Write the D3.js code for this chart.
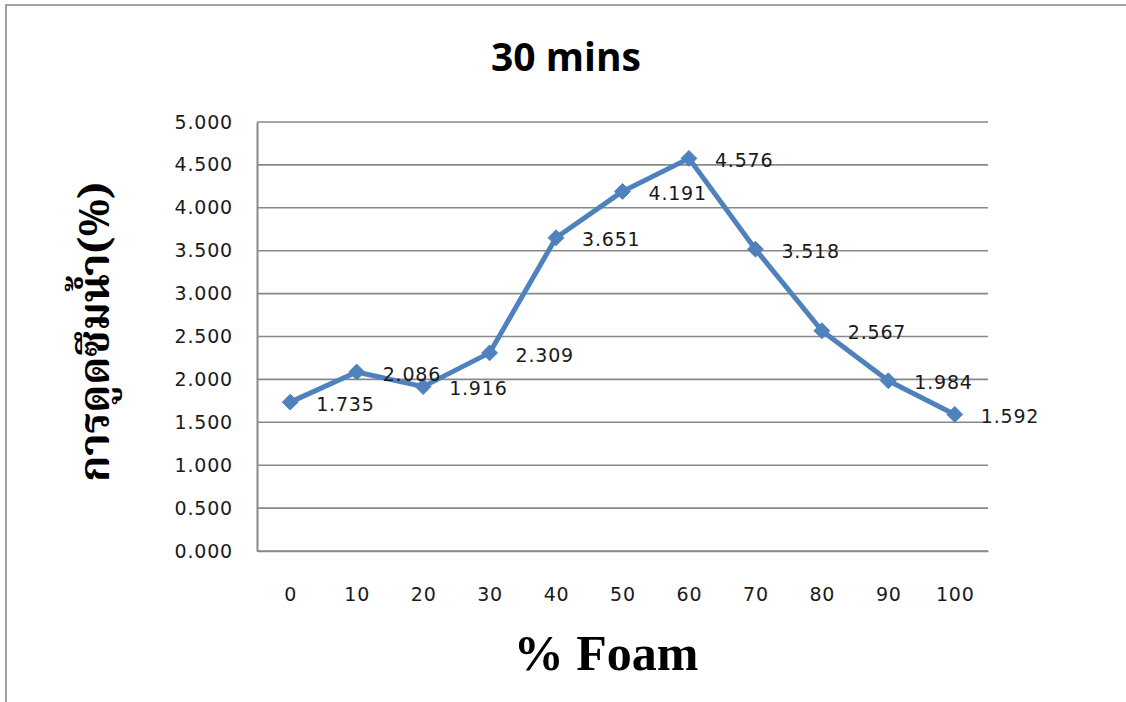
<!DOCTYPE html>
<html>
<head>
<meta charset="utf-8">
<script src="https://cdn.jsdelivr.net/npm/d3@7"></script>
<style>
  html, body { margin: 0; padding: 0; background: #fff; }
  svg { display: block; }
</style>
</head>
<body>
<svg id="chart" width="1126" height="702"></svg>
<script>
// Water absorption after 30 minutes for each foam percentage
const foamPercent = ["0", "10", "20", "30", "40", "50", "60", "70", "80", "90", "100"];
const absorption = [1.735, 2.086, 1.916, 2.309, 3.651, 4.191, 4.576, 3.518, 2.567, 1.984, 1.592];
const yTicks = [0, 0.5, 1, 1.5, 2, 2.5, 3, 3.5, 4, 4.5, 5];

const titleText = "30 mins";
const xTitleText = "% Foam";
const yTitleText = "การดูดซึมน้ำ(%)";

const svg = d3.select("#chart");
const W = 1126, H = 702;
const plot = { left: 257, top: 122, right: 988, bottom: 551 };
const numFont = "'DejaVu Sans', Verdana, sans-serif";
const lineColor = "#4F81BD";
const gridColor = "#888888";

// chart frame (runs off the right and bottom edges)
svg.append("path")
  .attr("d", `M6,${H + 5} V5 H${W + 5}`)
  .attr("fill", "none")
  .attr("stroke", "#a3a3a3")
  .attr("stroke-width", 2);

const x = d3.scalePoint()
  .domain(foamPercent)
  .range([plot.left, plot.right])
  .padding(0.5);

const y = d3.scaleLinear()
  .domain([0, 5])
  .range([plot.bottom, plot.top]);

// horizontal gridlines
svg.append("g")
  .selectAll("line")
  .data(yTicks)
  .join("line")
  .attr("x1", plot.left)
  .attr("x2", plot.right)
  .attr("y1", d => y(d))
  .attr("y2", d => y(d))
  .attr("stroke", gridColor)
  .attr("stroke-width", 1.6);

// y axis
const yAxis = svg.append("g")
  .attr("transform", `translate(${plot.left},0)`)
  .call(d3.axisLeft(y).tickValues(yTicks).tickFormat(d3.format(".3f")).tickSize(0).tickPadding(24));
yAxis.select(".domain").attr("stroke", gridColor).attr("stroke-width", 2);
yAxis.selectAll("text")
  .attr("font-family", numFont)
  .attr("font-size", 19)
  .attr("letter-spacing", 0.8)
  .attr("fill", "#1a1a1a");

// x axis
const xAxis = svg.append("g")
  .attr("transform", `translate(0,${plot.bottom})`)
  .call(d3.axisBottom(x).tickSize(0).tickPadding(37));
xAxis.select(".domain").attr("stroke", gridColor).attr("stroke-width", 1.6);
xAxis.selectAll("text")
  .attr("font-family", numFont)
  .attr("font-size", 19)
  .attr("letter-spacing", 0.8)
  .attr("fill", "#1a1a1a");

// data line
const line = d3.line()
  .x((d, i) => x(foamPercent[i]))
  .y(d => y(d));

svg.append("path")
  .datum(absorption)
  .attr("d", line)
  .attr("fill", "none")
  .attr("stroke", lineColor)
  .attr("stroke-width", 5)
  .attr("stroke-linejoin", "round");

// diamond markers
svg.append("g")
  .selectAll("path")
  .data(absorption)
  .join("path")
  .attr("transform", (d, i) => `translate(${x(foamPercent[i])},${y(d)})`)
  .attr("d", d3.symbol(d3.symbolDiamond2, 160))
  .attr("fill", lineColor)
  .attr("stroke", lineColor)
  .attr("stroke-width", 1);

// value labels to the right of each point
svg.append("g")
  .selectAll("text")
  .data(absorption)
  .join("text")
  .attr("x", (d, i) => x(foamPercent[i]) + 26)
  .attr("y", d => y(d) + 2)
  .attr("dy", "0.35em")
  .attr("font-family", numFont)
  .attr("font-size", 19)
  .attr("letter-spacing", 0.8)
  .attr("fill", "#1a1a1a")
  .text(d => d3.format(".3f")(d));

// chart title
svg.append("text")
  .attr("x", 566)
  .attr("y", 71)
  .attr("text-anchor", "middle")
  .attr("font-family", "'Open Sans', 'Liberation Sans', sans-serif")
  .attr("font-weight", "bold")
  .attr("font-size", 39)
  .attr("fill", "#000")
  .text(titleText);

// x axis title
svg.append("text")
  .attr("x", 606)
  .attr("y", 670)
  .attr("text-anchor", "middle")
  .attr("font-family", "'Liberation Serif', 'DejaVu Serif', serif")
  .attr("font-weight", "bold")
  .attr("font-size", 50)
  .attr("fill", "#000")
  .text(xTitleText);

// y axis title
svg.append("text")
  .attr("transform", "translate(109,332) rotate(-90)")
  .attr("text-anchor", "middle")
  .attr("font-family", "'Noto Serif Thai', 'Noto Sans Thai', 'Liberation Serif', serif")
  .attr("font-weight", "bold")
  .attr("font-size", 42)
  .attr("fill", "#000")
  .text(yTitleText);
</script>
</body>
</html>
